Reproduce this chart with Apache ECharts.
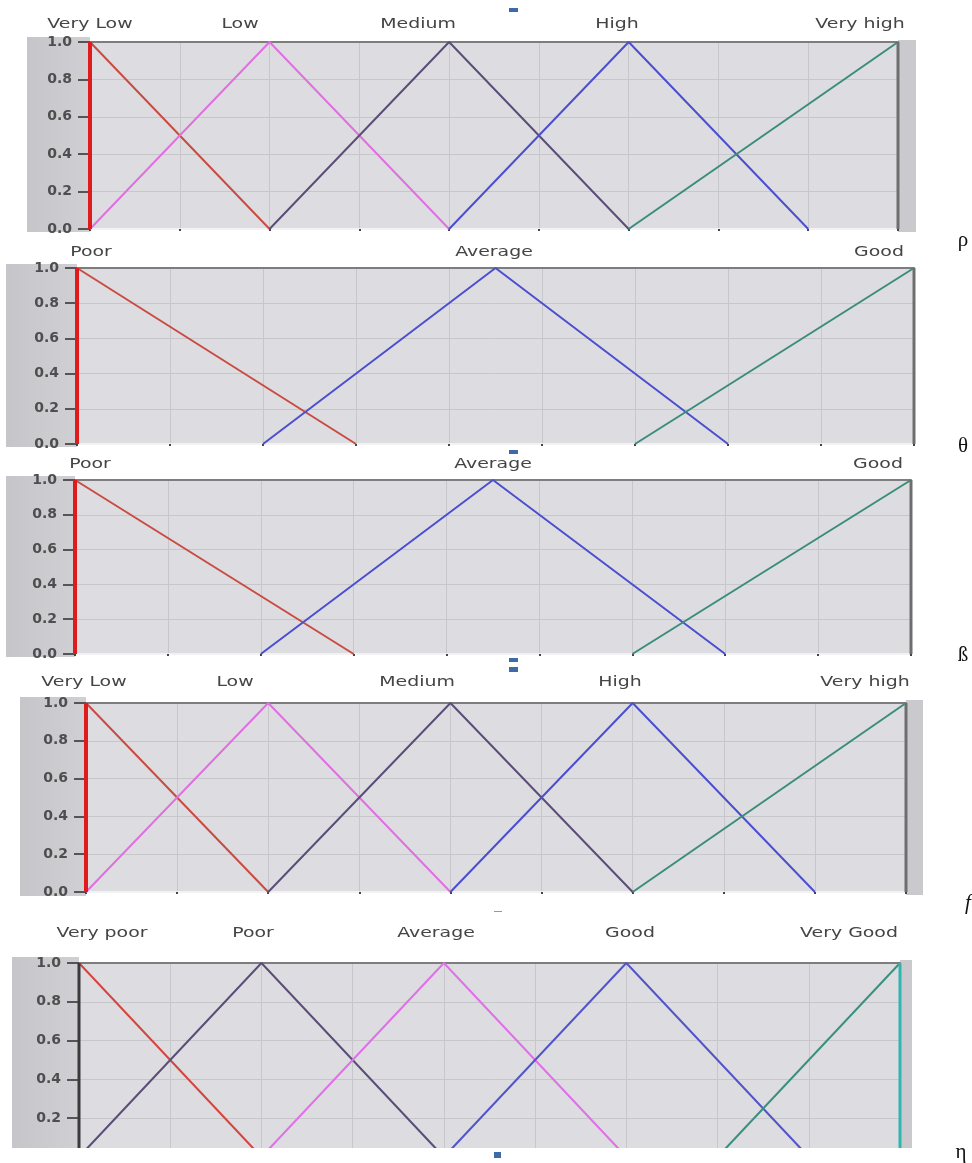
<!DOCTYPE html>
<html><head><meta charset="utf-8">
<script src="https://cdn.jsdelivr.net/npm/echarts@6/dist/echarts.min.js"></script>
<style>html,body{margin:0;padding:0;background:#fff}#c{width:972px;height:1163px}</style>
</head><body><div id="c"></div>
<script>
// ---------- DATA ----------
const yTickLabels = ['0.0','0.2','0.4','0.6','0.8','1.0'];
const xMin = 0, xMax = 9;
const leftEdge = [[0,0],[0,1]];
const rightEdge = [[9,1],[9,0]];

// ρ
const rhoNames = ['Very Low','Low','Medium','High','Very high'];
const rhoVeryLow = [[0,1],[2,0]];
const rhoLow = [[0,0],[2,1],[4,0]];
const rhoMedium = [[2,0],[4,1],[6,0]];
const rhoHigh = [[4,0],[6,1],[8,0]];
const rhoVeryHigh = [[6,0],[9,1]];

// θ
const thetaNames = ['Poor','Average','Good'];
const thetaPoor = [[0,1],[3,0]];
const thetaAverage = [[2,0],[4.5,1],[7,0]];
const thetaGood = [[6,0],[9,1]];

// β
const betaNames = ['Poor','Average','Good'];
const betaPoor = [[0,1],[3,0]];
const betaAverage = [[2,0],[4.5,1],[7,0]];
const betaGood = [[6,0],[9,1]];

// f
const fNames = ['Very Low','Low','Medium','High','Very high'];
const fVeryLow = [[0,1],[2,0]];
const fLow = [[0,0],[2,1],[4,0]];
const fMedium = [[2,0],[4,1],[6,0]];
const fHigh = [[4,0],[6,1],[8,0]];
const fVeryHigh = [[6,0],[9,1]];

// η
const etaNames = ['Very poor','Poor','Average','Good','Very Good'];
const etaVeryPoor = [[0,1],[2,0]];
const etaPoor = [[0,0],[2,1],[4,0]];
const etaAverage = [[2,0],[4,1],[6,0]];
const etaGood = [[4,0],[6,1],[8,0]];
const etaVeryGood = [[7,0],[9,1]];

const symbols = ['ρ','θ','ß','f','η'];

// ---------- LAYOUT / STYLE ----------
const RED='#c94b42', MAG='#e070e0', PUR='#5a4d78', BLUE='#4b4fcf', TEAL='#3b8c7c';
const panels = [
  { grid:{left:90,top:42,width:808,height:187}, names:rhoNames, nameX:[90,240,418,617,860], nameY:24,
    lines:[[rhoVeryLow,RED],[rhoLow,MAG],[rhoMedium,PUR],[rhoHigh,BLUE],[rhoVeryHigh,TEAL]],
    edges:[['#e01b1b',4],['#6e6e6e',3]], margin:[27,37,63,195], strip:[898,40,18,192], sym:[963,240,''] },
  { grid:{left:77,top:268,width:837,height:176}, names:thetaNames, nameX:[91,494,879], nameY:252,
    lines:[[thetaPoor,RED],[thetaAverage,BLUE],[thetaGood,TEAL]],
    edges:[['#e01b1b',4],['#6e6e6e',3]], margin:[6,264,71,183], strip:null, sym:[963,446,''] },
  { grid:{left:75,top:480,width:836,height:174}, names:betaNames, nameX:[90,493,878], nameY:464,
    lines:[[betaPoor,RED],[betaAverage,BLUE],[betaGood,TEAL]],
    edges:[['#e01b1b',4],['#6e6e6e',3]], margin:[6,476,69,181], strip:null, sym:[963,655,''] },
  { grid:{left:86,top:703,width:820,height:189}, names:fNames, nameX:[84,235,417,620,865], nameY:682,
    lines:[[fVeryLow,RED],[fLow,MAG],[fMedium,PUR],[fHigh,BLUE],[fVeryHigh,TEAL]],
    edges:[['#e01b1b',4],['#6e6e6e',3]], margin:[20,697,66,199], strip:[906,700,17,195], sym:[968,903,'italic '] },
  { grid:{left:79,top:963,width:821,height:194}, names:etaNames, nameX:[102,253,436,630,849], nameY:933,
    lines:[[etaVeryPoor,'#d6443e'],[etaPoor,PUR],[etaAverage,'#e070e8'],[etaGood,'#5255c8'],[etaVeryGood,'#3a9080']],
    edges:[['#3a3a3a',3],['#2fb5b0',3]], margin:[12,957,67,191], strip:[900,960,12,188], sym:[961,1152,''] }
];

const grids=[], xAxes=[], yAxes=[], series=[], graphics=[];
panels.forEach((p,i)=>{
  grids.push(Object.assign({show:true, backgroundColor:'#dddde1', borderWidth:0, outerBoundsMode:'none'}, p.grid));
  xAxes.push({gridIndex:i, type:'value', min:xMin, max:xMax, interval:1, position:'bottom',
    axisLine:{show:true, onZero:false, lineStyle:{color:'#f2f2f2', width:2}},
    axisTick:{show:true, length:2, lineStyle:{color:'#444', width:2}},
    axisLabel:{show:false},
    splitLine:{show:true, lineStyle:{color:'#c6c6cb', width:1}}});
  xAxes.push({gridIndex:i, type:'value', min:xMin, max:xMax, interval:1, position:'top',
    axisLine:{show:true, onZero:false, lineStyle:{color:'#7d7d80', width:2}},
    axisTick:{show:false}, axisLabel:{show:false}, splitLine:{show:false}});
  yAxes.push({gridIndex:i, type:'value', min:0, max:1, interval:0.2,
    axisLine:{show:false},
    axisTick:{show:true, length:12, lineStyle:{color:'#555', width:2}},
    axisLabel:{show:true, margin:18, fontFamily:'DejaVu Sans', fontSize:14, fontWeight:'bold', color:'#4e4e4e',
      formatter:v=>yTickLabels[Math.round(v*5)]},
    splitLine:{show:true, lineStyle:{color:'#c6c6cb', width:1}}});
  p.lines.forEach(([d,c])=>{
    series.push({type:'line', xAxisIndex:2*i, yAxisIndex:i, data:d, symbol:'none', animation:false,
      lineStyle:{color:c, width:2}, z:3});
  });
  series.push({type:'line', xAxisIndex:2*i, yAxisIndex:i, data:leftEdge, symbol:'none', animation:false,
    lineStyle:{color:p.edges[0][0], width:p.edges[0][1]}, z:4, clip:false});
  series.push({type:'line', xAxisIndex:2*i, yAxisIndex:i, data:rightEdge, symbol:'none', animation:false,
    lineStyle:{color:p.edges[1][0], width:p.edges[1][1]}, z:4, clip:false});
  // background decorations
  const m=p.margin;
  graphics.push({type:'rect', shape:{x:m[0],y:m[1],width:m[2],height:m[3]},
    style:{fill:{type:'linear',x:0,y:0,x2:1,y2:0,colorStops:[{offset:0,color:'#c6c6ca'},{offset:1,color:'#d0d0d4'}]}}, z:-1, silent:true});
  if(p.strip){const s=p.strip;
    graphics.push({type:'rect', shape:{x:s[0],y:s[1],width:s[2],height:s[3]}, style:{fill:'#cacace'}, z:-1, silent:true});}
  p.names.forEach((n,k)=>{
    graphics.push({type:'text', x:p.nameX[k], y:p.nameY, scaleX:1.35, silent:true, z:5,
      style:{text:n, x:0, y:0, textAlign:'center', textVerticalAlign:'middle',
        font:'14px "DejaVu Sans"', fill:'#454545'}});
  });
  graphics.push({type:'text', x:p.sym[0], y:p.sym[1], silent:true, z:5,
    style:{text:symbols[i], x:0, y:0, textAlign:'center', textVerticalAlign:'middle',
      font:p.sym[2]+'21px "Liberation Serif"', fill:'#111'}});
});
// white cut under last panel
graphics.push({type:'rect', shape:{x:0,y:1148,width:940,height:15}, style:{fill:'#ffffff'}, z:100, silent:true});
// small blue artefacts of the source document
[[509,8,9,4],[509,450,9,4],[509,658,9,4],[509,667,9,5],[494,1152,7,6]].forEach(r=>{
  graphics.push({type:'rect', shape:{x:r[0],y:r[1],width:r[2],height:r[3]}, style:{fill:'#3f6aa8'}, z:101, silent:true});
});
graphics.push({type:'rect', shape:{x:494,y:911,width:8,height:1}, style:{fill:'#8a9ab5'}, z:101, silent:true});

const chart = echarts.init(document.getElementById('c'), null, {renderer:'canvas'});
chart.setOption({animation:false, backgroundColor:'#ffffff', grid:grids, xAxis:xAxes, yAxis:yAxes, series:series, graphic:{elements:graphics}});
</script></body></html>
